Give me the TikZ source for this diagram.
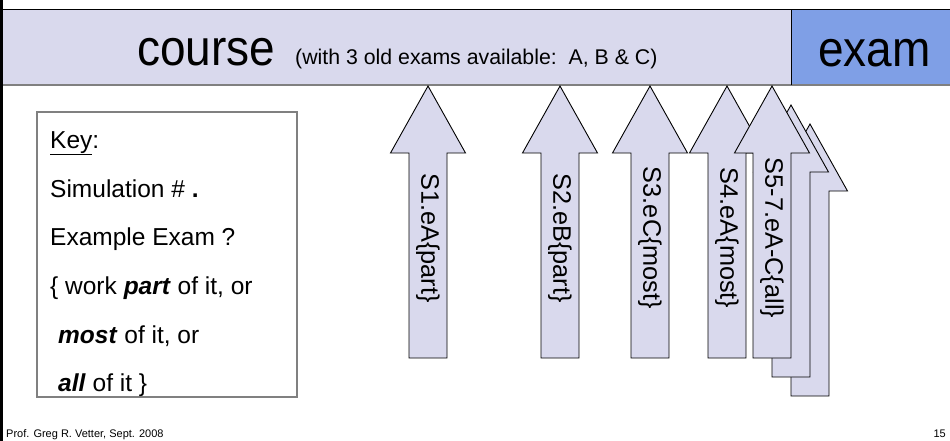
\documentclass[tikz,border=0pt]{standalone}
\usepackage{fontspec}
\setmainfont{Liberation Sans}
\definecolor{coursefill}{RGB}{217,217,237}
\definecolor{examfill}{RGB}{127,159,230}
\definecolor{keyframe}{RGB}{128,128,128}
\tikzset{
  bigtitle/.style={anchor=base west, inner sep=0pt, font=\fontsize{46}{50}\selectfont, yscale=1.1},
  subtitle/.style={anchor=base west, inner sep=0pt, font=\fontsize{21.3}{24}\selectfont},
  keyline/.style={anchor=base west, inner sep=0pt, font=\fontsize{24.5}{28}\selectfont},
  arrowbody/.style={draw=black, line width=0.9pt, fill=coursefill, line join=miter},
  arrowlabel/.style={rotate=-90, inner sep=0pt, font=\fontsize{25.3}{28}\selectfont},
  footer/.style={inner sep=0pt, font=\fontsize{11}{13}\selectfont},
  % block arrow pointing up, tip at the pic origin
  uparr/.pic={
    \draw[arrowbody] (0,0) -- (37.5,67) -- (19,67) -- (19,272) -- (-19,272)
      -- (-19,67) -- (-37.5,67) -- cycle;
  },
}
\begin{document}
\begin{tikzpicture}[x=1pt,y=-1pt]
\useasboundingbox (0,0) rectangle (950,441);

% title bar
\fill[coursefill] (0,10) rectangle (791,85);
\fill[examfill] (791,10) rectangle (950,85);
\draw[line width=1pt] (0,10) -- (950,10);
\draw[line width=1.6pt, black!50] (0,85) -- (950,85);
\draw[line width=1pt] (791,10) -- (791,85);
\draw[line width=2.5pt] (1.5,0) -- (1.5,441);

\node[bigtitle, transform shape] (course) at (137,66) {course};
\node[subtitle] (avail) at (295,65) {(with 3 old exams available:\ \ A, B \& C)};
\node[bigtitle, transform shape] (exam) at (818,67) {exam};

% key box
\draw[draw=keyframe, line width=2.5pt, fill=white] (37,112) rectangle (297,397);
\node[keyline] (k0) at (50,148) {\underline{Key}:};
\node[keyline] (k1) at (50,197) {Simulation \# \textbf{.}};
\node[keyline] (k2) at (50,245) {Example Exam ?};
\node[keyline] (k3) at (50,294) {\{ work \textbf{\textit{part}} of it, or};
\node[keyline] (k4) at (58,343) {\textbf{\textit{most}} of it, or};
\node[keyline] (k5) at (58,391) {\textbf{\textit{all}} of it \}};

% simulation arrows
\pic (a1) at (428,86) {uparr};
\pic (a2) at (560,86) {uparr};
\pic (a3) at (650,86) {uparr};
\pic (a4) at (727,86) {uparr};
\pic (a7) at (810,124) {uparr};
\pic (a6) at (791,105) {uparr};
\pic (a5) at (772,86) {uparr};

\node[arrowlabel] (l1) at (428,238) {S1.eA\{part\}};
\node[arrowlabel] (l2) at (560,238) {S2.eB\{part\}};
\node[arrowlabel] (l3) at (650,238) {S3.eC\{most\}};
\node[arrowlabel] (l4) at (727,238) {S4.eA\{most\}};
\node[arrowlabel] (l5) at (772,238) {S5-7.eA-C\{all\}};

% footer
\node[footer, anchor=base west] (foot) at (6,437) {Prof. Greg R. Vetter, Sept. 2008};
\node[footer, anchor=base east] (page) at (946,437) {15};
\end{tikzpicture}
\end{document}
